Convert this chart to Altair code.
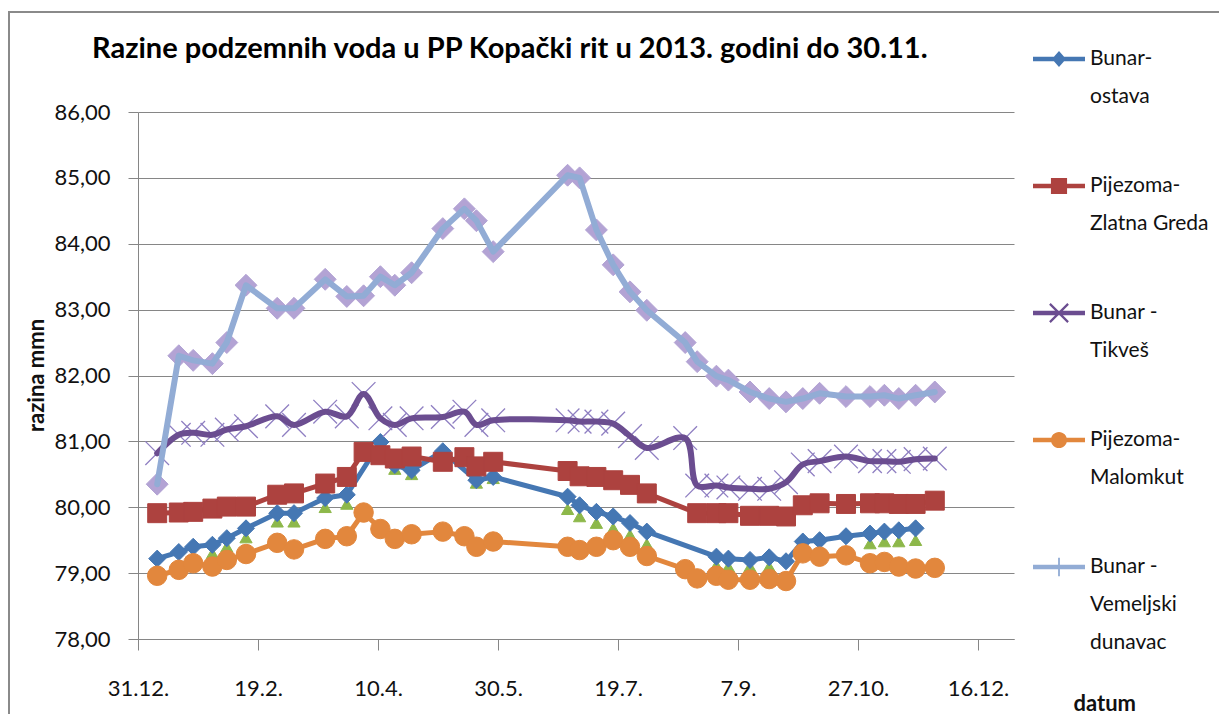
import altair as alt
import pandas as pd

# ---------------- data ----------------
dates = ["2013-01-08", "2013-01-17", "2013-01-23", "2013-01-31", "2013-02-06", "2013-02-14",
         "2013-02-27", "2013-03-06", "2013-03-19", "2013-03-28", "2013-04-04", "2013-04-11",
         "2013-04-17", "2013-04-24", "2013-05-07", "2013-05-16", "2013-05-21", "2013-05-28",
         "2013-06-28", "2013-07-03", "2013-07-10", "2013-07-17", "2013-07-24", "2013-07-31",
         "2013-08-16", "2013-08-21", "2013-08-29", "2013-09-03", "2013-09-12", "2013-09-20",
         "2013-09-27", "2013-10-04", "2013-10-11", "2013-10-22", "2013-11-01", "2013-11-07",
         "2013-11-13", "2013-11-20", "2013-11-28"]

bunar_ostava = [79.22, 79.32, 79.40, 79.43, 79.53, 79.68, 79.91, 79.91, 80.14, 80.19, None, 80.99,
                80.64, 80.56, 80.85, None, 80.41, 80.46, 80.16, 80.03, 79.93, 79.86, 79.76, 79.63,
                None, None, 79.25, 79.22, 79.20, 79.24, 79.18, 79.48, 79.50, 79.56, 79.60, 79.63,
                79.65, 79.68, None]

zlatna_greda = [79.91, 79.92, 79.93, 79.98, 80.01, 80.01, 80.19, 80.21, 80.36, 80.46, 80.84, 80.79,
                80.74, 80.77, 80.69, 80.76, 80.62, 80.69, 80.55, 80.47, 80.46, 80.41, 80.34, 80.21,
                None, 79.91, 79.91, 79.91, 79.87, 79.87, 79.86, 80.03, 80.06, 80.05, 80.06, 80.06,
                80.05, 80.05, 80.10]

tikves = [80.82, 81.10, 81.13, 81.10, 81.18, 81.23, 81.38, 81.25, 81.45, 81.38, 81.72, 81.35,
          81.25, 81.35, 81.37, 81.45, 81.25, 81.32, 81.32, 81.30, 81.30, 81.27, 81.08, 80.90,
          81.05, 80.33, 80.33, 80.30, 80.28, 80.28, 80.38, 80.65, 80.70, 80.77, 80.70, 80.70,
          80.69, 80.73, 80.74]

malomkut = [78.96, 79.05, 79.15, 79.10, 79.20, 79.29, 79.46, 79.36, 79.52, 79.56, 79.92, 79.67,
            79.52, 79.59, 79.63, 79.56, 79.40, 79.48, 79.40, 79.35, 79.40, 79.50, 79.40, 79.26,
            79.06, 78.92, 78.96, 78.90, 78.90, 78.91, 78.88, 79.30, 79.25, 79.27, 79.15, 79.17,
            79.10, 79.07, 79.08]

vemeljski = [80.35, 82.30, 82.23, 82.18, 82.50, 83.37, 83.02, 83.02, 83.46, 83.20, 83.21, 83.50,
             83.37, 83.56, 84.23, 84.53, 84.35, 83.88, 85.04, 85.00, 84.21, 83.68, 83.27, 82.99,
             82.50, 82.21, 81.99, 81.93, 81.75, 81.65, 81.60, 81.65, 81.73, 81.68, 81.68, 81.70,
             81.65, 81.70, 81.75]

# hidden (unlabelled) series whose green triangles peek out under "Bunar-ostava"
hidden_green = [None, None, None, 79.30, 79.40, 79.54, 79.78, 79.78, 80.00, 80.05, None, None,
                80.58, 80.50, None, None, 80.37, 80.44, 79.97, 79.86, 79.76, 79.68, 79.58, 79.44,
                None, None, 79.12, 79.10, 79.10, 79.10, None, None, None, None, 79.45, 79.48,
                79.48, 79.50, None]

series_names = ["Bunar-ostava", "Pijezoma-Zlatna Greda", "Bunar - Tikveš",
                "Pijezoma-Malomkut", "Bunar - Vemeljski dunavac"]
legend_labels = ["Bunar-\nostava", "Pijezoma-\nZlatna Greda", "Bunar -\nTikveš",
                 "Pijezoma-\nMalomkut", "Bunar -\nVemeljski\ndunavac"]

title_text = "Razine podzemnih voda u PP Kopački rit u 2013. godini do 30.11."
y_title = "razina mmn"
x_title = "datum"
y_ticks = [78, 79, 80, 81, 82, 83, 84, 85, 86]
x_domain = ["2012-12-31", "2013-12-31"]
x_tick_dates = ["2012-12-31", "2013-02-19", "2013-04-10", "2013-05-30",
                "2013-07-19", "2013-09-07", "2013-10-27", "2013-12-16"]

# ---------------- styling ----------------
FONT = "Lato"
GRID = "#868686"
TXT = "#111111"
C_BLUE = "#4577b3"
C_RED = "#ad423f"
C_PURPLE = "#6b4d90"
C_XMARK = "#8f7fc2"
C_ORANGE = "#e2873d"
C_LBLUE = "#92acd5"
C_LAV = "#b3a3d4"
C_GREEN = "#8db84a"

X_PATH = "M-1,-1L1,1M-1,1L1,-1"
legend_colors = [C_BLUE, C_RED, C_PURPLE, C_ORANGE, C_LBLUE]
LINE = "M-1,-0.09H1V0.09H-1Z"
legend_shapes = [
    LINE + "M0,-0.31L0.27,0L0,0.31L-0.27,0Z",
    LINE + "M-0.31,-0.31H0.31V0.31H-0.31Z",
    LINE + "M-0.38,-0.32L-0.32,-0.38L0.38,0.32L0.32,0.38Z"
           "M-0.38,0.32L0.32,-0.38L0.38,-0.32L-0.32,0.38Z",
    LINE + "M0.31,0A0.31,0.31 0 1,1 -0.31,0A0.31,0.31 0 1,1 0.31,0Z",
    LINE + "M-0.035,-0.36H0.035V0.36H-0.035Z",
]


def dt(s):
    y, m, d = (int(p) for p in s.split("-"))
    return alt.DateTime(year=y, month=m, date=d, utc=True)


x_scale = alt.Scale(type="utc", domain=[dt(s) for s in x_domain], nice=False)
y_scale = alt.Scale(domain=[y_ticks[0], y_ticks[-1]], nice=False, zero=False)

x_axis = alt.Axis(values=[dt(s) for s in x_tick_dates],
                  labelExpr="utcFormat(datum.value, '%-d.%-m.')",
                  title=x_title, titleX=935, titleY=64, titleAlign="left",
                  titleBaseline="middle", titleFontSize=22, titleFontWeight="bold",
                  titleFont=FONT, titleColor=TXT,
                  labelFont=FONT, labelFontSize=22, labelColor=TXT, labelPadding=28,
                  labelFlush=False, labelOverlap=False,
                  tickSize=11, tickColor=GRID, domainColor=GRID, grid=False)
y_axis = alt.Axis(values=y_ticks,
                  labelExpr="replace(format(datum.value, '.2f'), '.', ',')",
                  title=y_title, titleX=-90, titleY=263, titleFontSize=22,
                  titleFontWeight="bold", titleFont=FONT, titleColor=TXT,
                  labelFont=FONT, labelFontSize=22, labelColor=TXT, labelPadding=18,
                  tickSize=10, tickColor=GRID, domainColor=GRID,
                  grid=True, gridColor=GRID, gridWidth=1)

X = alt.X("date:T", scale=x_scale, axis=x_axis)
Y = alt.Y("value:Q", scale=y_scale, axis=y_axis)


def frame_for(values):
    rows = [{"date": d, "value": v} for d, v in zip(dates, values) if v is not None]
    return pd.DataFrame(rows)


def line_layer(values, color, width, interp="linear"):
    return alt.Chart(frame_for(values)).mark_line(
        color=color, strokeWidth=width, interpolate=interp, strokeJoin="round",
        strokeCap="round").encode(x=X, y=Y)


def point_layer(values, shape, color, size, filled=True, stroke_width=1):
    kw = dict(shape=shape, size=size, opacity=1, filled=filled, strokeWidth=stroke_width)
    if filled:
        kw.update(fill=color, stroke=color)
    else:
        kw.update(stroke=color)
    return alt.Chart(frame_for(values)).mark_point(**kw).encode(x=X, y=Y)


# decorative chart-area border (Excel chart frame)
border = alt.Chart(pd.DataFrame({"k": [0]})).mark_rect(
    filled=False, stroke="#8a8a8a", strokeWidth=2).encode(
    x=alt.value(-129), x2=alt.value(1200), y=alt.value(-100), y2=alt.value(700))

layers = [
    border,
    point_layer(hidden_green, "triangle-up", C_GREEN, 150),
    line_layer(bunar_ostava, C_BLUE, 5),
    point_layer(bunar_ostava, "diamond", C_BLUE, 290),
    line_layer(zlatna_greda, C_RED, 5),
    point_layer(zlatna_greda, "square", C_RED, 360),
    point_layer(tikves, X_PATH, C_XMARK, 560, filled=False, stroke_width=1.3),
    line_layer(tikves, C_PURPLE, 6, "catmull-rom"),
    line_layer(malomkut, C_ORANGE, 5),
    point_layer(malomkut, "circle", C_ORANGE, 380),
    point_layer(vemeljski, "diamond", C_LAV, 480),
    line_layer(vemeljski, C_LBLUE, 6),
]

legend = alt.Legend(orient="none", legendX=895, legendY=-79, title=None,
                    labelExpr="split(datum.label, '\\n')",
                    labelFont=FONT, labelFontSize=21, labelColor=TXT, labelLimit=400,
                    labelOffset=5, labelBaseline="middle",
                    symbolSize=2704, symbolStrokeWidth=0, rowPadding=53, padding=0)

legend_df = pd.DataFrame({"series": legend_labels, "value": [None] * len(legend_labels)})
legend_layer = alt.Chart(legend_df).mark_point(filled=True, opacity=1, size=2704).encode(
    y=alt.Y("value:Q", scale=y_scale, axis=y_axis),
    fill=alt.Fill("series:N", scale=alt.Scale(domain=legend_labels, range=legend_colors),
                  legend=legend),
    shape=alt.Shape("series:N", scale=alt.Scale(domain=legend_labels, range=legend_shapes),
                    legend=legend),
)
layers.append(legend_layer)

chart = alt.layer(*layers).properties(
    width=876, height=527,
    autosize=alt.AutoSizeParams(type="none"),
    padding={"left": 130, "top": 104, "right": 205, "bottom": 75},
    title=alt.TitleParams(text=title_text, anchor="start", frame="group", dx=-46,
                          offset=0, dy=82, baseline="bottom", font=FONT, fontSize=29,
                          fontWeight="bold", color="#000000"),
).configure(
    font=FONT,
    style={"guide-label": {"lineHeight": 38}},
).configure_view(stroke=None)

chart.save("out.html", embed_options={"renderer": "svg", "actions": False})
